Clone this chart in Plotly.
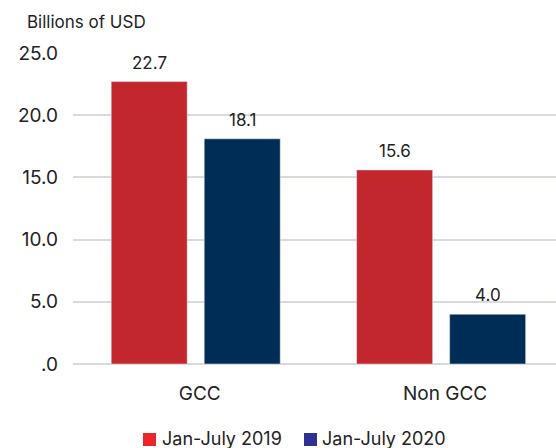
import plotly.graph_objects as go

categories = ["GCC", "Non GCC"]
series_names = ["Jan-July 2019", "Jan-July 2020"]
values_2019 = [22.7, 15.6]
values_2020 = [18.1, 4.0]
tick_vals = [0, 5, 10, 15, 20, 25]
tick_text = [".0", "5.0", "10.0", "15.0", "20.0", "25.0"]

bar_colors = ["#C1272D", "#002D55"]
legend_colors = ["#E8262B", "#2E3192"]
FONT = "Inter"
TEXT = "#222222"

# plot area in pixels (used to place the custom legend in paper space)
L, R, T, B, W, H = 73, 0, 53, 84, 556, 448
PW, PH = W - L - R, H - T - B

BARGAP = 0.242
SLOT = (1 - BARGAP) / 2  # width of each bar slot inside a category, in axis units


def px_x(x):
    return (x - L) / PW


def px_y(y):
    return (H - B - y) / PH


fig = go.Figure()
for name, vals, col in zip(series_names, [values_2019, values_2020], bar_colors):
    fig.add_trace(go.Bar(
        x=categories, y=vals, name=name, marker_color=col,
        cliponaxis=False, showlegend=False,
    ))

shapes, annotations = [], []

# value labels above each bar
for k, vals in enumerate([values_2019, values_2020]):
    offset = (k - 0.5) * SLOT
    for i, v in enumerate(vals):
        annotations.append(dict(text=f"{v:.1f}", xref="x", yref="y",
                                x=i + offset, y=v, xanchor="center", yanchor="bottom",
                                yshift=8, borderpad=0, showarrow=False,
                                font=dict(size=17, color=TEXT, family=FONT)))

# custom legend: coloured squares followed by series names
legend_items = [(143, 161), (304, 321)]
for (sq_x, tx_x), name, col in zip(legend_items, series_names, legend_colors):
    shapes.append(dict(type="rect", xref="paper", yref="paper",
                       x0=px_x(sq_x), x1=px_x(sq_x + 13),
                       y0=px_y(446), y1=px_y(433),
                       fillcolor=col, line=dict(width=0)))
    annotations.append(dict(text=name, xref="paper", yref="paper",
                            x=px_x(tx_x), y=px_y(438), xanchor="left", yanchor="middle",
                            borderpad=0, showarrow=False,
                            font=dict(size=18, color=TEXT, family=FONT)))

annotations.append(dict(text="Billions of USD", xref="paper", yref="paper",
                        x=px_x(26), y=px_y(22), xanchor="left", yanchor="middle",
                        borderpad=0, showarrow=False,
                        font=dict(size=17, color=TEXT, family=FONT)))

fig.update_layout(
    width=W, height=H,
    margin=dict(l=L, r=R, t=T, b=B),
    paper_bgcolor="white", plot_bgcolor="white",
    barmode="group", bargap=BARGAP, bargroupgap=0.183,
    font=dict(family=FONT, color=TEXT, size=17),
    showlegend=False,
    xaxis=dict(range=[-0.5, 1.468], showgrid=False, showline=False, ticks="",
               ticklabelstandoff=16, ticklabelshift=4,
               tickfont=dict(size=19, color=TEXT)),
    yaxis=dict(range=[0, 25], tickvals=tick_vals, ticktext=tick_text,
               showgrid=True, gridcolor="#D9DAE0", gridwidth=2,
               zeroline=True, zerolinecolor="#D9DAE0", zerolinewidth=2,
               ticks="", ticklabelstandoff=14,
               tickfont=dict(size=19, color=TEXT)),
    shapes=shapes,
    annotations=annotations,
)

fig.write_html("out.html")
